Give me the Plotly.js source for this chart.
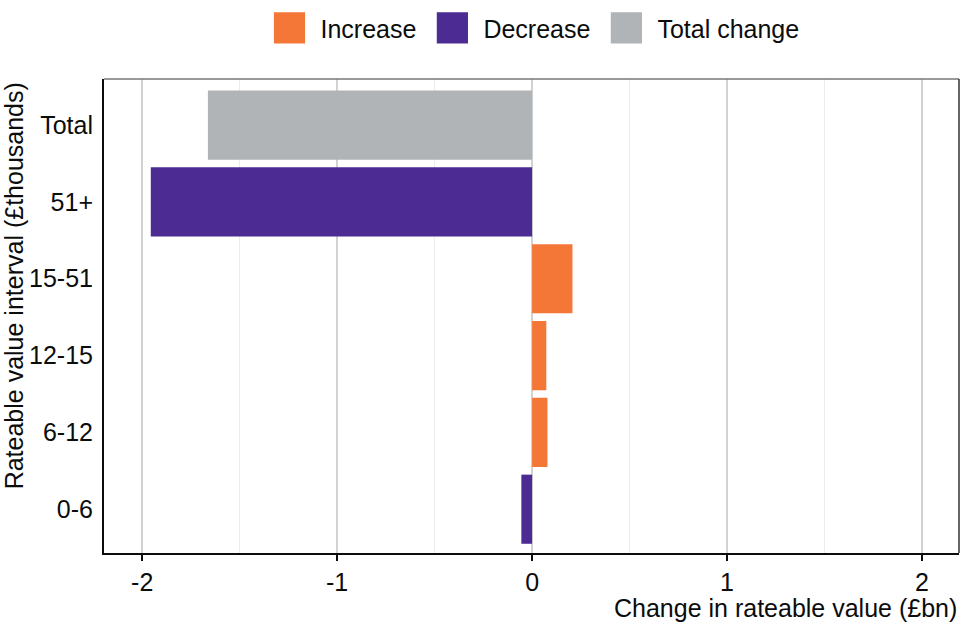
<!DOCTYPE html>
<html>
<head>
<meta charset="utf-8">
<script src="https://cdn.plot.ly/plotly-3.0.1.min.js"></script>
<style>html,body{margin:0;padding:0;background:#fff;}#chart{width:960px;height:640px;}</style>
</head>
<body>
<div id="chart"></div>
<script>
// Categories (bottom to top)
const categories = ["0-6", "6-12", "12-15", "15-51", "51+", "Total"];

// Increase series
const increaseCats = ["6-12", "12-15", "15-51"];
const increaseVals = [0.079, 0.073, 0.207];

// Decrease series
const decreaseCats = ["0-6", "51+"];
const decreaseVals = [-0.055, -1.956];

// Total change
const totalCats = ["Total"];
const totalVals = [-1.663];

const xTickVals = [-2, -1, 0, 1, 2];
const xTickText = ["-2", "-1", "0", "1", "2"];

const FONT = "Liberation Sans, Arial, Helvetica, sans-serif";
const TXT = "#0b0c0c";
const FS = 25;

const data = [
  {type: "bar", orientation: "h", name: "Increase", y: increaseCats, x: increaseVals,
   marker: {color: "#f47738"}, width: 0.9, hoverinfo: "x+y"},
  {type: "bar", orientation: "h", name: "Decrease", y: decreaseCats, x: decreaseVals,
   marker: {color: "#4c2c92"}, width: 0.9, hoverinfo: "x+y"},
  {type: "bar", orientation: "h", name: "Total change", y: totalCats, x: totalVals,
   marker: {color: "#b1b4b6"}, width: 0.9, hoverinfo: "x+y"}
];

const layout = {
  width: 960, height: 640,
  margin: {l: 104, r: 1, t: 79, b: 87},
  paper_bgcolor: "#fff", plot_bgcolor: "#fff",
  font: {family: FONT, size: FS, color: TXT},
  barmode: "overlay",
  showlegend: true,
  legend: {orientation: "h", x: 0.5, xanchor: "center", y: 0.956, yref: "container", yanchor: "middle",
           font: {family: FONT, size: FS, color: TXT}, itemwidth: 52, traceorder: "normal"},
  xaxis: {
    range: [-2.196, 2.19],
    tickvals: xTickVals, ticktext: xTickText,
    showgrid: true, gridcolor: "#d2d2d2", gridwidth: 2,
    zeroline: false,
    minor: {dtick: 0.5, showgrid: true, gridcolor: "#ececec", gridwidth: 1},
    ticks: "outside", ticklen: 6, tickwidth: 1.5, tickcolor: TXT,
    showline: true, linecolor: TXT, linewidth: 2, mirror: false,
    tickfont: {family: FONT, size: FS, color: TXT},
    fixedrange: true
  },
  yaxis: {
    type: "category", categoryorder: "array", categoryarray: categories,
    range: [-0.57, 5.6],
    showgrid: false, zeroline: false,
    ticks: "", ticklabelstandoff: 4,
    showline: true, linecolor: TXT, linewidth: 2,
    tickfont: {family: FONT, size: FS, color: TXT},
    fixedrange: true
  },
  shapes: [
    {type: "line", xref: "paper", yref: "paper", x0: 0, x1: 1, y0: 1, y1: 1, line: {color: "#777", width: 1.5}},
    {type: "line", xref: "paper", yref: "paper", x0: 1, x1: 1, y0: 0, y1: 1, line: {color: "#333", width: 1.5}}
  ],
  annotations: [
    {text: "Rateable value interval (£thousands)", xref: "paper", yref: "paper",
     x: -0.105, y: 0.563, xanchor: "center", yanchor: "middle", textangle: -90, showarrow: false,
     font: {family: FONT, size: FS, color: TXT}},
    {text: "Change in rateable value (£bn)", xref: "paper", yref: "paper",
     x: 1, y: -0.115, xanchor: "right", yanchor: "middle", showarrow: false,
     font: {family: FONT, size: FS, color: TXT}}
  ]
};

Plotly.newPlot("chart", data, layout, {displayModeBar: false, staticPlot: true}).then(function(gd){
  // enlarge legend swatches to match reference
  document.querySelectorAll(".legend .legendpoints path").forEach(function(p){
    p.setAttribute("transform", (p.getAttribute("transform") || "") + " scale(2.6)");
  });
});
</script>
</body>
</html>
